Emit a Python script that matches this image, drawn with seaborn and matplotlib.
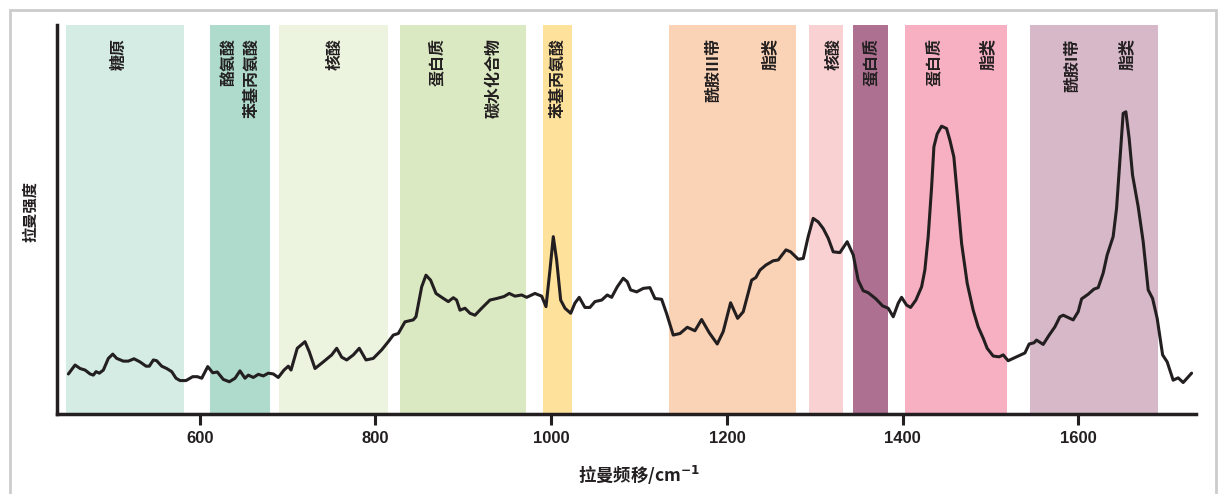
import numpy as np
import matplotlib.pyplot as plt
import seaborn as sns
from matplotlib.patches import Rectangle

# Raman spectrum (wavenumber in cm-1, intensity in a.u.)
wavenumber = [
    450.5, 458.1, 463.8, 469.5, 475.2, 478.9, 482.0, 485.7, 490.3, 496.0,
    501.0, 505.5, 513.0, 518.7, 525.2, 532.0, 538.9, 542.6, 547.2, 551.0,
    556.7, 562.4, 568.1, 573.0, 577.6, 584.4, 592.0, 597.3, 602.3, 609.1,
    614.8, 620.0, 626.8, 633.7, 640.2, 645.8, 651.5, 655.3, 661.0, 666.7,
    672.4, 678.0, 683.7, 689.4, 695.9, 700.8, 703.9, 711.0, 719.8, 724.7,
    731.2, 740.6, 750.2, 755.9, 761.6, 767.3, 774.8, 781.6, 789.2, 797.5,
    807.1, 814.6, 820.3, 826.0, 833.6, 843.0, 846.1, 852.6, 857.5, 862.8,
    868.9, 875.4, 882.9, 888.6, 892.4, 896.2, 901.9, 907.6, 913.3, 920.9,
    930.3, 938.0, 946.3, 952.3, 958.8, 966.4, 972.1, 981.5, 989.2, 994.1,
    998.6, 1002.4, 1006.2, 1010.8, 1015.7, 1022.2, 1027.0, 1031.9, 1038.4, 1044.1,
    1049.8, 1057.5, 1063.8, 1068.8, 1075.2, 1082.0, 1086.6, 1090.4, 1097.3, 1104.8,
    1112.4, 1118.1, 1125.7, 1131.4, 1138.9, 1146.6, 1154.9, 1163.6, 1171.2, 1179.9,
    1189.0, 1195.8, 1204.2, 1212.2, 1218.6, 1228.1, 1233.0, 1237.6, 1244.4, 1252.7,
    1258.4, 1267.2, 1272.5, 1281.2, 1286.9, 1292.5, 1298.2, 1303.9, 1309.6, 1315.3,
    1321.0, 1328.6, 1336.9, 1343.8, 1349.4, 1355.1, 1360.8, 1369.6, 1377.2, 1383.6,
    1389.3, 1395.0, 1398.8, 1404.5, 1409.1, 1415.1, 1421.6, 1425.3, 1429.1, 1433.0,
    1435.6, 1439.3, 1444.3, 1450.0, 1453.8, 1458.3, 1462.1, 1467.1, 1473.5, 1480.3,
    1486.0, 1491.7, 1496.2, 1503.1, 1509.9, 1514.5, 1520.1, 1525.8, 1531.5, 1539.2,
    1544.0, 1549.4, 1552.4, 1560.0, 1566.8, 1573.3, 1579.0, 1582.8, 1588.5, 1594.1,
    1599.8, 1603.7, 1611.2, 1617.7, 1622.6, 1628.2, 1632.8, 1639.6, 1643.5, 1647.2,
    1651.0, 1654.1, 1657.8, 1661.7, 1668.1, 1673.8, 1679.5, 1684.5, 1689.7, 1695.9,
    1701.1, 1707.9, 1713.6, 1719.3, 1728.9,
]
intensity = [
    10.3, 12.6, 11.7, 11.3, 10.3, 10.0, 10.9, 10.5, 11.3, 14.3,
    15.4, 14.3, 13.6, 13.6, 14.2, 13.4, 12.3, 12.3, 13.9, 13.7,
    12.3, 11.7, 10.9, 9.2, 8.6, 8.6, 9.6, 9.6, 9.2, 12.2,
    10.6, 10.8, 8.9, 8.3, 9.2, 11.1, 9.2, 10.0, 9.4, 10.2,
    9.8, 10.5, 10.3, 9.4, 11.3, 12.3, 11.3, 16.9, 18.6, 16.0,
    11.7, 13.4, 15.2, 16.9, 14.6, 13.9, 15.2, 16.9, 13.9, 14.3,
    16.5, 18.6, 20.3, 20.7, 23.7, 24.2, 25.0, 32.7, 35.7, 34.4,
    31.0, 30.0, 28.9, 29.9, 29.3, 26.7, 27.2, 25.9, 25.4, 27.2,
    29.3, 29.7, 30.2, 31.0, 30.3, 30.6, 30.0, 31.0, 30.3, 27.6,
    37.0, 45.6, 39.6, 29.3, 27.2, 25.9, 28.5, 30.0, 27.4, 27.4,
    28.9, 29.3, 30.6, 30.0, 32.7, 34.9, 34.0, 31.9, 31.4, 32.3,
    32.5, 29.7, 29.5, 25.8, 20.3, 20.7, 22.3, 21.4, 24.3, 20.9,
    18.0, 21.2, 28.6, 24.6, 26.3, 34.4, 35.1, 37.0, 38.3, 39.4,
    39.6, 42.2, 41.7, 39.8, 40.0, 45.6, 50.3, 49.4, 47.7, 45.2,
    41.7, 41.5, 44.3, 40.9, 34.4, 31.7, 31.2, 29.6, 27.8, 27.2,
    25.0, 28.5, 30.0, 28.0, 27.4, 29.3, 32.7, 37.0, 45.6, 58.4,
    68.7, 72.0, 74.0, 73.4, 70.4, 66.1, 56.7, 43.9, 33.6, 26.7,
    22.4, 19.5, 16.9, 14.9, 14.7, 15.2, 13.7, 14.3, 14.9, 15.7,
    18.0, 18.3, 19.0, 17.9, 20.3, 22.4, 25.0, 25.4, 24.8, 24.2,
    26.3, 29.6, 30.8, 32.1, 32.5, 36.2, 40.9, 45.6, 52.9, 64.9,
    77.3, 77.7, 70.9, 61.4, 53.3, 44.3, 31.9, 29.7, 24.6, 15.2,
    13.4, 8.7, 9.3, 8.1, 10.5,
]

# assignment bands (cm-1)
band_lo = [447.8, 611.7, 690.2, 827.9, 990.6, 1134.0, 1293.3, 1343.4, 1402.6, 1544.8]
band_hi = [582.1, 680.0, 813.9, 971.3, 1023.6, 1278.5, 1332.0, 1383.2, 1518.7, 1690.5]
band_colors = ['#d5ece4', '#aedbcb', '#ecf3df', '#dbe9c2', '#fee29b',
               '#fad2b5', '#fad1d3', '#ad7091', '#f7b0c1', '#d6b8c8']

label_text = ['糖原', '酪氨酸', '苯基丙氨酸', '核酸', '蛋白质', '碳水化合物',
              '苯基丙氨酸', '酰胺III带', '脂类', '核酸', '蛋白质', '蛋白质',
              '脂类', '酰胺I带', '脂类']
label_x = [508, 632, 659, 753, 870, 934, 1007, 1184, 1249,
           1321, 1364, 1436, 1497, 1593, 1655]

xticks = [600, 800, 1000, 1200, 1400, 1600]

ink = '#231f20'

sns.set_theme(style="ticks")
plt.rcParams['font.family'] = ['Noto Sans CJK SC', 'DejaVu Sans']
plt.rcParams['mathtext.fontset'] = 'dejavusans'

fig = plt.figure(figsize=(12.19, 4.94), dpi=100)
ax = fig.add_axes([0.0468, 0.1619, 0.9344, 0.7874])

for lo, hi, c in zip(band_lo, band_hi, band_colors):
    ax.axvspan(lo, hi, color=c, lw=0, zorder=0)

sns.lineplot(x=wavenumber, y=intensity, ax=ax, color=ink, lw=2.2,
             sort=False, zorder=3)

for txt, xv in zip(label_text, label_x):
    ax.text(xv, 0.966, txt, rotation=90, ha='center', va='top',
            transform=ax.get_xaxis_transform(), fontsize=11.5,
            fontweight='bold', color=ink, zorder=4)

ax.set_xlim(437.6, 1734)
ax.set_ylim(0, 100)
ax.set_yticks([])
ax.set_xticks(xticks)
ax.tick_params(axis='x', direction='out', length=8, width=2.2, color=ink,
               labelsize=12, pad=4, labelcolor=ink)
for lbl in ax.get_xticklabels():
    lbl.set_fontweight('bold')
    lbl.set_family(['Liberation Sans', 'DejaVu Sans'])

sns.despine(ax=ax)
for side in ['left', 'bottom']:
    ax.spines[side].set_linewidth(2.5)
    ax.spines[side].set_color(ink)

ax.set_xlabel(r'拉曼频移/cm$^{\mathbf{-1}}$', fontsize=12.5,
              fontweight='bold', color=ink)
ax.xaxis.set_label_coords((639 - 57) / 1139, -0.159)
ax.set_ylabel('拉曼强度', fontsize=11, fontweight='bold', color=ink)
ax.yaxis.set_label_coords(-0.0237, 0.52)
ax.xaxis.label.set_va('center')
ax.yaxis.label.set_va('center')

# light grey frame around the whole figure
fig.patches.append(Rectangle((10 / 1219, -0.1), 1206 / 1219, 1 - 10 / 494 + 0.1,
                             transform=fig.transFigure, fill=False,
                             ec='#cccccc', lw=2))

fig.savefig('out.png', dpi=100)
